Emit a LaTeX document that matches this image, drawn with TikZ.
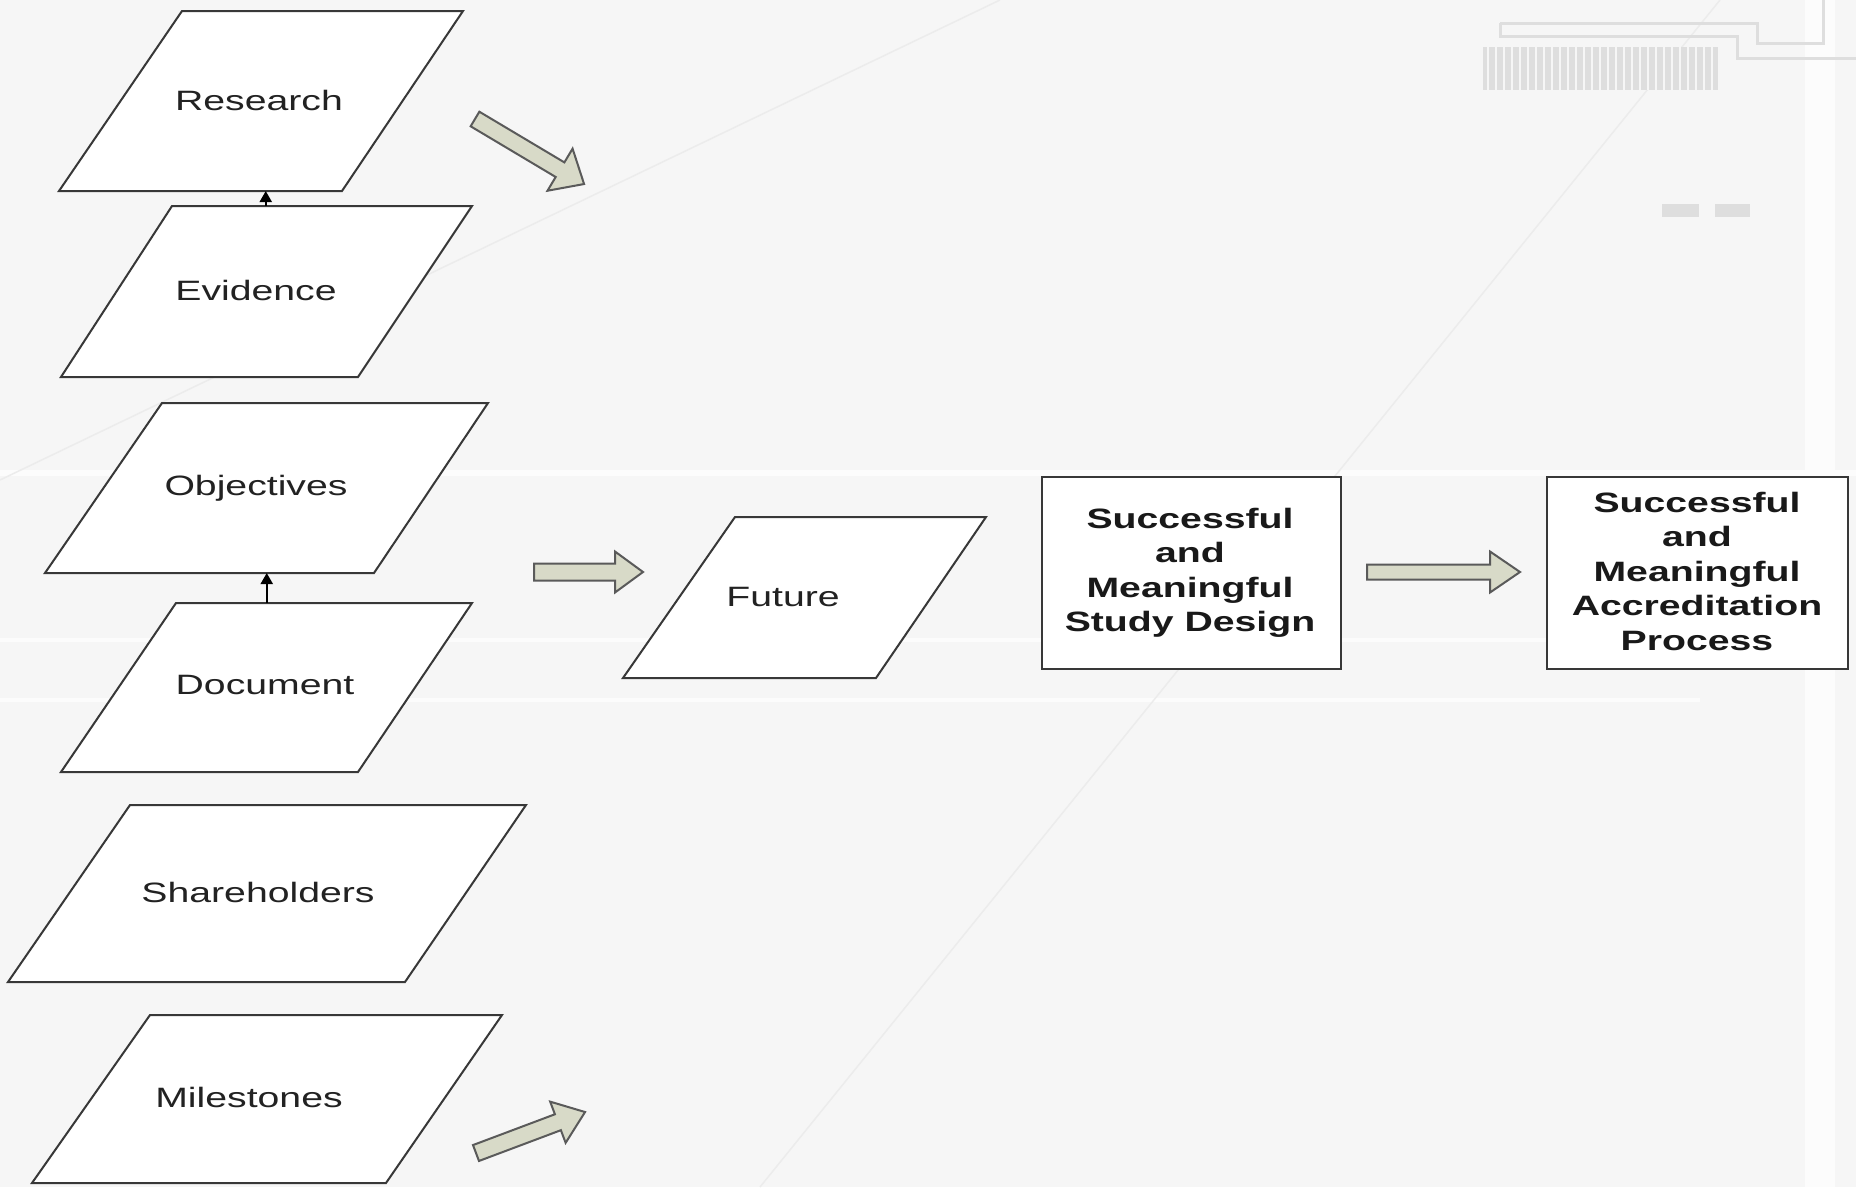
\documentclass[tikz,border=0pt]{standalone}
\usepackage{fontspec}
\setmainfont{Liberation Sans}[FakeStretch=1.4]
\definecolor{bgcol}{HTML}{F6F6F6}
\definecolor{bgline}{HTML}{FCFCFC}
\definecolor{bgdiag}{HTML}{ECECEC}
\definecolor{deco}{HTML}{DEDEDE}
\definecolor{shapeline}{HTML}{383838}
\definecolor{txtcol}{HTML}{222222}
\definecolor{arrfill}{HTML}{D8DAC8}
\definecolor{arrline}{HTML}{5A5A5A}
\usetikzlibrary{arrows.meta}
\tikzset{
  pline/.style={draw=shapeline, line width=2pt, fill=white, line join=miter},
  boxstyle/.style={draw=shapeline, line width=2pt, fill=white, inner sep=0pt},
  lbl/.style={text=txtcol, font=\fontsize{28}{34}\selectfont, inner sep=0pt},
  blbl/.style={text=black!90, font=\bfseries\fontsize{28}{34.5}\selectfont, align=center, inner sep=0pt},
  conn/.style={draw=black, line width=2pt, -{Triangle[length=11pt,width=12pt]}},
  bar/.style={draw=arrline, line width=2pt, fill=arrfill, line join=miter}
}
% name, top-left x, top-right x, top y, bottom-left x, bottom-right x, bottom y, text pos, text
\newcommand\paral[9]{%
  \draw[pline] (#2,#4) -- (#3,#4) -- (#6,#7) -- (#5,#7) -- cycle;
  \coordinate (#1-n) at ({(#2+#3+#5+#6)/4},#4);
  \coordinate (#1-s) at ({(#2+#3+#5+#6)/4},#7);
  \node[lbl] (#1) at (#8) {#9};
}
% tail x, tail y, angle, length, shaft half width, head half width, head length
\newcommand\barrow[7]{%
  \begin{scope}[shift={(#1,#2)},rotate=#3]
    \draw[bar] (0,-#5) -- ({#4-#7},-#5) -- ({#4-#7},-#6) -- (#4,0) -- ({#4-#7},#6) -- ({#4-#7},#5) -- (0,#5) -- cycle;
  \end{scope}}
\begin{document}
\begin{tikzpicture}[x=1pt,y=-1pt]
\useasboundingbox (0,0) rectangle (1856,1187);
\fill[bgcol] (0,0) rectangle (1856,1187);
% faint background texture
\draw[bgline, line width=6pt] (0,473) -- (1856,473);
\draw[bgline, line width=4pt] (0,640) -- (1700,640);
\draw[bgline, line width=4pt] (0,700) -- (1700,700);
\fill[bgline] (1805,0) rectangle (1835,1187);
\draw[bgdiag, line width=1.5pt] (0,480) -- (1000,0);
\draw[bgdiag, line width=1.5pt] (760,1187) -- (1720,0);
\draw[deco, line width=3pt] (1500,23) -- (1757,23) -- (1757,43) -- (1823,43) -- (1823,0);
\draw[deco, line width=3pt] (1500,23) -- (1500,36) -- (1737,36) -- (1737,58) -- (1856,58);
\fill[deco] (1483,47) rectangle (1718,90);
\foreach \i in {0,...,28} {\draw[bgcol, line width=1.5pt] ({1488+8*\i},47) -- ({1488+8*\i},90);}
\fill[deco] (1662,204) rectangle (1699,217);
\fill[deco] (1715,204) rectangle (1750,217);

% parallelograms
\paral{res}{182}{463}{11}{59}{342}{191}{259,100}{Research}
\paral{evid}{172}{472}{206}{61}{358}{377}{256,290}{Evidence}
\paral{obj}{162}{488}{403}{45}{374}{573}{256,488}{Objectives}
\paral{doc}{176}{472}{603}{61}{358}{772}{265,685}{Document}
\paral{share}{130}{526}{805}{8}{405}{982}{258,892}{Shareholders}
\paral{mile}{150}{502}{1015}{32}{386}{1183}{249,1097}{Milestones}
\paral{fut}{735}{986}{517}{623}{876}{678}{783,597}{Future}

% boxes
\node[boxstyle, minimum width=299pt, minimum height=192pt] (study) at (1191.5,573) {};
\node[blbl] (study-t) at (1190,573) {Successful\\and\\Meaningful\\Study Design};
\node[boxstyle, minimum width=301pt, minimum height=192pt] (accr) at (1697.5,573) {};
\node[blbl] (accr-t) at (1697,571) {Successful\\and\\Meaningful\\Accreditation\\Process};

% small connectors
\draw[conn] (evid-n) -- (evid-n |- res-s);
\draw[conn] (doc-n) -- (doc-n |- obj-s);

% block arrows
\barrow{475}{119}{-30.8}{127}{8.5}{24.5}{28}
\barrow{476}{1153}{20.6}{116.5}{8.5}{22}{29}
\barrow{534}{572}{0}{109}{8.5}{20.5}{28}
\barrow{1367}{572}{0}{153}{7.5}{20.5}{30}
\end{tikzpicture}
\end{document}
